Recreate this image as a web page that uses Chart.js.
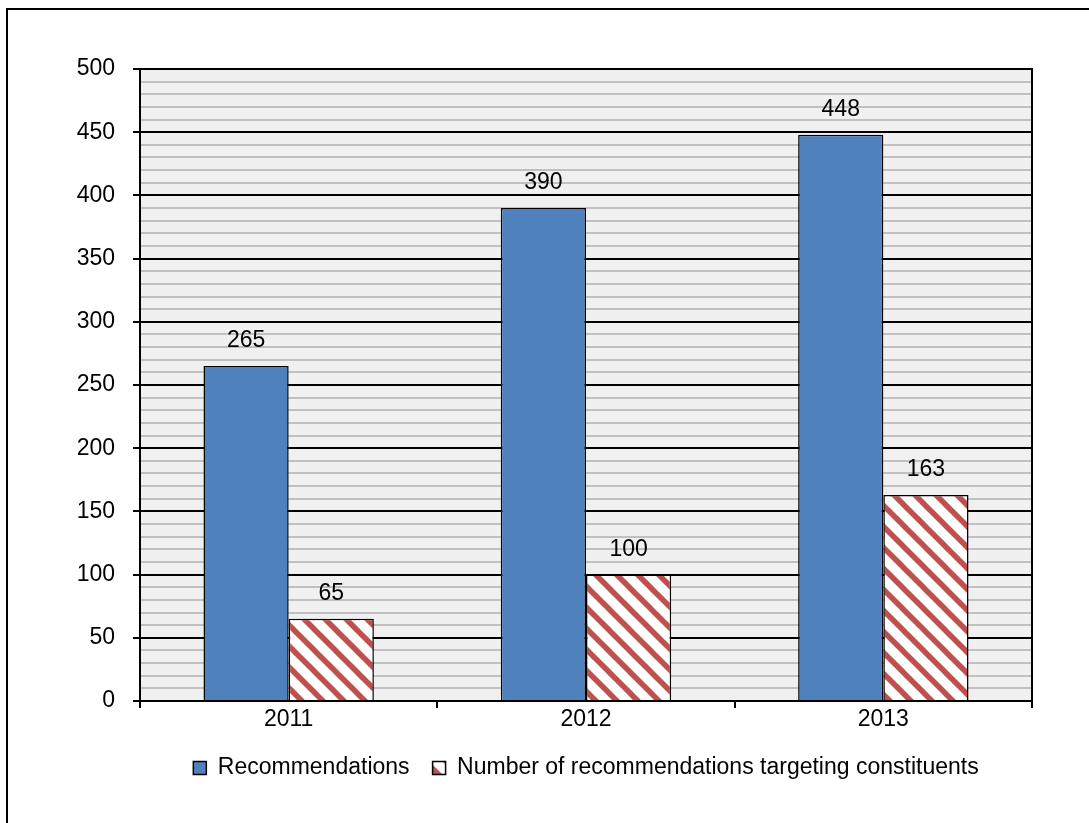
<!DOCTYPE html>
<html>
<head>
<meta charset="utf-8">
<script src="https://cdn.jsdelivr.net/npm/chart.js@4.4.1/dist/chart.umd.min.js"></script>
<style>
  body { margin: 0; background: #fff; overflow: hidden; }
  #wrap { position: relative; width: 1089px; height: 823px; }
  #frame { position: absolute; left: 6px; top: 8px; width: 1200px; height: 1000px; border: 2px solid #000; pointer-events: none; }
</style>
</head>
<body>
<div id="wrap">
  <canvas id="recChart" width="1089" height="823"></canvas>
  <div id="frame"></div>
</div>
<script>
const years = ['2011', '2012', '2013'];
const recommendations = [265, 390, 448];
const targetingConstituents = [65, 100, 163];
const seriesNames = ['Recommendations', 'Number of recommendations targeting constituents'];

const FONT = "'Liberation Sans', Arial, sans-serif";
const FSIZE = 23;

// diagonal red stripes on white
function stripes(color) {
    const s = 21;
    const c = document.createElement('canvas');
    c.width = s; c.height = s;
    const g = c.getContext('2d');
    g.fillStyle = '#fff';
    g.fillRect(0, 0, s, s);
    g.strokeStyle = color;
    g.lineWidth = 5.5;
    for (const k of [-s, 0, s]) {
        g.beginPath();
        g.moveTo(k - 2, -2);
        g.lineTo(k + s + 2, s + 2);
        g.stroke();
    }
    return g.createPattern(c, 'repeat');
}

const plotBg = {
    id: 'plotBg',
    beforeDraw(chart) {
        const a = chart.chartArea, ctx = chart.ctx;
        ctx.save();
        ctx.fillStyle = '#f0f0f0';
        ctx.fillRect(a.left, a.top, a.right - a.left, a.bottom - a.top);
        ctx.restore();
    },
    beforeDatasetsDraw(chart) {
        const a = chart.chartArea, ctx = chart.ctx;
        ctx.save();
        ctx.strokeStyle = '#000';
        ctx.lineWidth = 2;
        ctx.beginPath();
        ctx.moveTo(a.right, a.top - 1);
        ctx.lineTo(a.right, a.bottom);
        ctx.stroke();
        ctx.restore();
    }
};

const valueLabels = {
    id: 'valueLabels',
    afterDatasetsDraw(chart) {
        const ctx = chart.ctx;
        ctx.save();
        ctx.font = FSIZE + 'px ' + FONT;
        ctx.fillStyle = '#000';
        ctx.textAlign = 'center';
        ctx.textBaseline = 'middle';
        chart.data.datasets.forEach((ds, i) => {
            chart.getDatasetMeta(i).data.forEach((bar, j) => {
                ctx.fillText(ds.data[j], bar.x, bar.y - 25);
            });
        });
        ctx.restore();
    }
};

new Chart(document.getElementById('recChart'), {
    type: 'bar',
    data: {
        labels: years,
        datasets: [{
            label: seriesNames[0],
            data: recommendations,
            backgroundColor: '#4f81bd',
            borderColor: '#000',
            borderWidth: 1.5,
            categoryPercentage: 0.573,
            barPercentage: 1
        }, {
            label: seriesNames[1],
            data: targetingConstituents,
            backgroundColor: stripes('#c0504d'),
            borderColor: '#000',
            borderWidth: 1.5,
            categoryPercentage: 0.573,
            barPercentage: 1
        }]
    },
    options: {
        responsive: false,
        animation: false,
        devicePixelRatio: 1,
        layout: { padding: { left: 0, top: 69, right: 57, bottom: 33.5 } },
        plugins: {
            legend: {
                position: 'bottom',
                fullSize: false,
                labels: {
                    color: '#000',
                    font: { family: FONT, size: FSIZE },
                    boxWidth: 13,
                    boxHeight: 13,
                    padding: 23
                }
            },
            tooltip: { enabled: false }
        },
        scales: {
            x: {
                offset: true,
                border: { color: '#000', width: 2 },
                grid: { offset: true, drawOnChartArea: false, color: '#000', lineWidth: 2, tickLength: 7 },
                ticks: { color: '#000', font: { family: FONT, size: FSIZE }, padding: -2 },
                afterFit(scale) { scale.height = 32.5; }
            },
            y: {
                min: 0,
                max: 500,
                border: { color: '#000', width: 2 },
                grid: {
                    color: c => c.tick.value % 50 === 0 ? '#000' : '#c0c0c0',
                    lineWidth: 2,
                    tickColor: c => c.tick.value % 50 === 0 ? '#000' : 'rgba(0,0,0,0)',
                    tickLength: 7
                },
                ticks: {
                    stepSize: 10,
                    color: '#000',
                    font: { family: FONT, size: FSIZE },
                    padding: 18,
                    autoSkip: false,
                    callback: v => v % 50 === 0 ? v : ''
                },
                afterFit(scale) { scale.width = 140; }
            }
        }
    },
    plugins: [plotBg, valueLabels]
});
</script>
</body>
</html>
